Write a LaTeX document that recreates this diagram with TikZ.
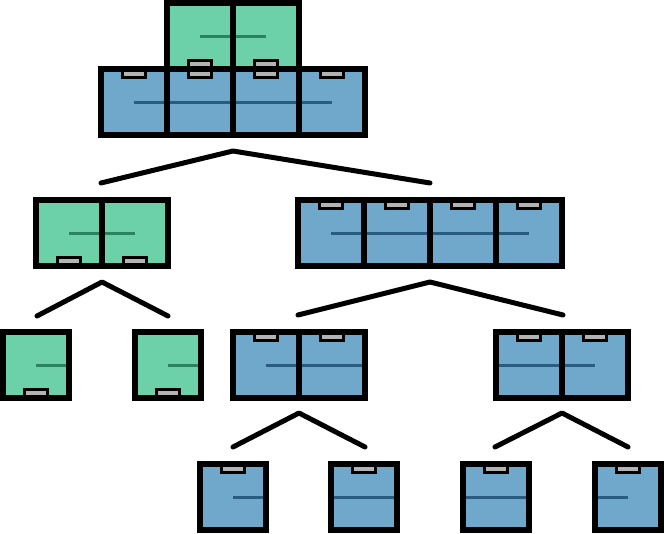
\documentclass[tikz,border=0pt]{standalone}
\usepackage{xcolor}
\definecolor{boxblue}{HTML}{6FA8CB}
\definecolor{boxgreen}{HTML}{6CD1A9}
\definecolor{lineblue}{HTML}{285C80}
\definecolor{linegreen}{HTML}{2A8360}
\definecolor{tabgray}{HTML}{B3B3B3}

% #1 name, #2/#3 top left corner, #4 cells, #5 blue/green,
% #6 tab anchor, #7 tab side, #8/#9 span of the middle line
\newcommand{\arrbox}[9]{%
  \foreach \i in {1,...,#4}
    \node[cell#5] (#1-\i) at ({#2+36+66*(\i-1)},{#3+36}) {};
  \draw[mid#5] ({#2+#8},{#3+36}) -- ({#2+#9},{#3+36});
  \foreach \i in {1,...,#4}{
    \draw[rim] (#1-\i.south west) rectangle (#1-\i.north east);
    \draw[tab] ([shift={(-11.5,1.5*#7)}]#1-\i.#6) rectangle ([shift={(11.5,8.5*#7)}]#1-\i.#6);
  }%
}

\begin{document}
\begin{tikzpicture}[
    x=1pt, y=-1pt,
    cellblue/.style={fill=boxblue, minimum size=66pt, inner sep=0pt, outer sep=0pt},
    cellgreen/.style={fill=boxgreen, minimum size=66pt, inner sep=0pt, outer sep=0pt},
    midblue/.style={draw=lineblue, line width=3pt},
    midgreen/.style={draw=linegreen, line width=3pt},
    rim/.style={draw=black, line width=6pt},
    tab/.style={fill=tabgray, draw=black, line width=2.5pt},
    branch/.style={draw=black, line width=5pt, line cap=round, line join=round}
  ]
    \useasboundingbox (0,0) rectangle (664,533);

    % ---- level 0 ----
    \arrbox{a}{98}{66}{4}{blue}{north}{1}{36}{234}
    \arrbox{b}{164}{0}{2}{green}{south}{-1}{36}{102}

    \coordinate (k0) at (233,151);
    \coordinate (k0l) at (101,183);
    \coordinate (k0r) at (430,183);
    \draw[branch] (k0l) -- (k0) -- (k0r);

    % ---- level 1 ----
    \arrbox{c}{33}{197}{2}{green}{south}{-1}{36}{102}
    \arrbox{d}{295}{197}{4}{blue}{north}{1}{36}{234}

    \coordinate (k1) at (102,282);
    \coordinate (k1l) at (37,316);
    \coordinate (k1r) at (168,316);
    \draw[branch] (k1l) -- (k1) -- (k1r);

    \coordinate (k2) at (430,282);
    \coordinate (k2l) at (298,315);
    \coordinate (k2r) at (563,315);
    \draw[branch] (k2l) -- (k2) -- (k2r);

    % ---- level 2 ----
    \arrbox{e}{0}{329}{1}{green}{south}{-1}{36}{66}
    \arrbox{f}{132}{329}{1}{green}{south}{-1}{36}{66}
    \arrbox{g}{230}{329}{2}{blue}{north}{1}{36}{132}
    \arrbox{h}{493}{329}{2}{blue}{north}{1}{6}{102}

    \coordinate (k3) at (299,413);
    \coordinate (k3l) at (233,447);
    \coordinate (k3r) at (365,447);
    \draw[branch] (k3l) -- (k3) -- (k3r);

    \coordinate (k4) at (562,413);
    \coordinate (k4l) at (495,447);
    \coordinate (k4r) at (628,447);
    \draw[branch] (k4l) -- (k4) -- (k4r);

    % ---- level 3 ----
    \arrbox{p}{197}{461}{1}{blue}{north}{1}{36}{66}
    \arrbox{q}{328}{461}{1}{blue}{north}{1}{6}{66}
    \arrbox{r}{460}{461}{1}{blue}{north}{1}{6}{66}
    \arrbox{s}{592}{461}{1}{blue}{north}{1}{6}{36}
\end{tikzpicture}
\end{document}
